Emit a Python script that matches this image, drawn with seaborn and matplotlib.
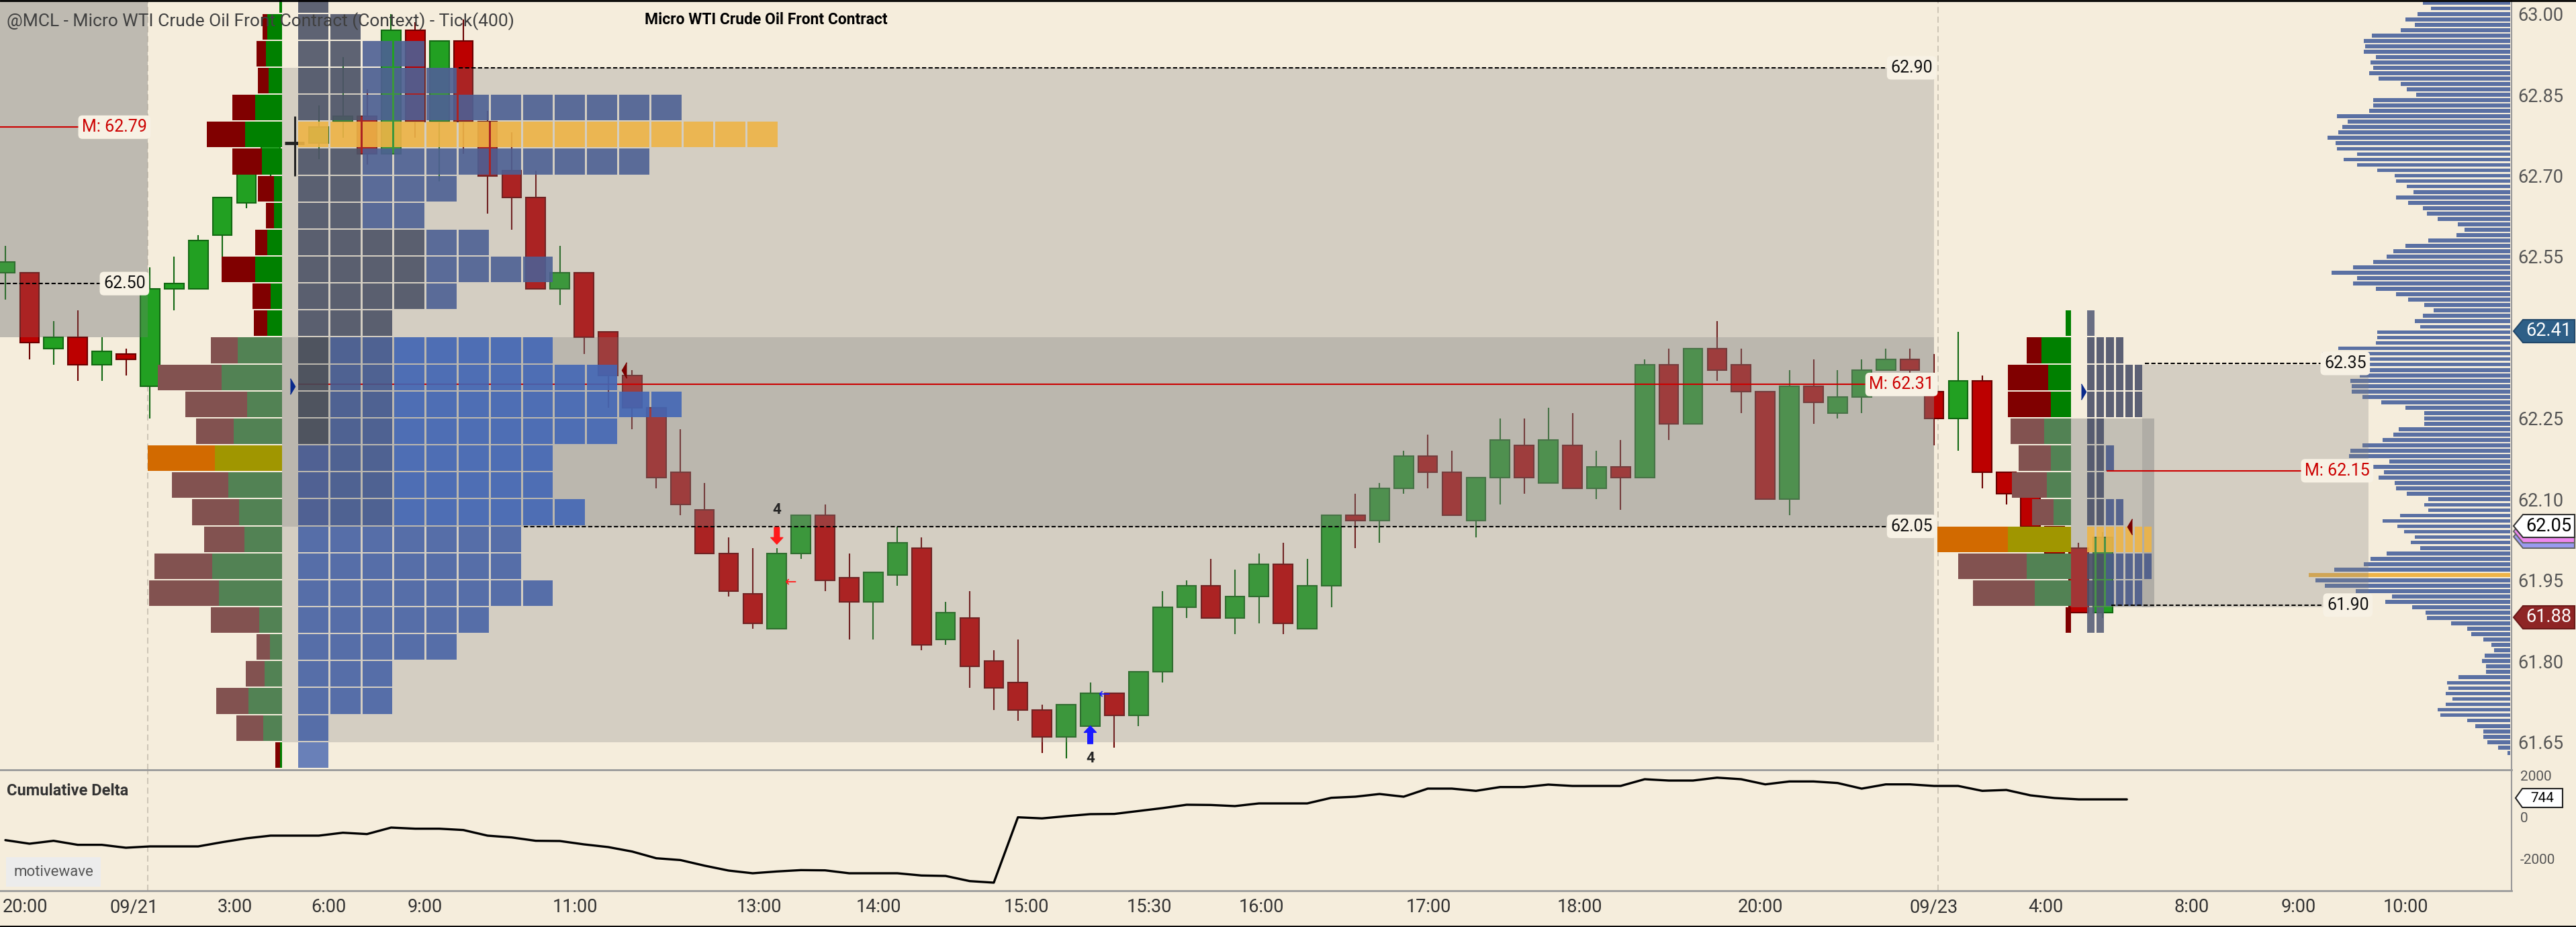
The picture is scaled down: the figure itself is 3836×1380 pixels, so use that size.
import numpy as np
import pandas as pd
import matplotlib
matplotlib.use("Agg")
import matplotlib.pyplot as plt
from matplotlib.patches import Rectangle, Polygon
import seaborn as sns

# ---------------- data ----------------
# 400-tick candles
opens = [62.52, 62.52, 62.38, 62.40, 62.35, 62.37, 62.31, 62.49, 62.49, 62.59,
         62.65, 62.71, 62.76, 62.76, 62.80, 62.81, 62.74, 62.97, 62.80, 62.95,
         62.80, 62.71, 62.66, 62.49, 62.52, 62.41, 62.33, 62.27, 62.15, 62.08,
         62.00, 61.925, 61.86, 62.00, 62.07, 61.955, 61.91, 61.96, 62.01, 61.84,
         61.88, 61.80, 61.76, 61.71, 61.66, 61.68, 61.74, 61.70, 61.78, 61.90,
         61.94, 61.88, 61.92, 61.98, 61.86, 61.94, 62.07, 62.06, 62.12, 62.18,
         62.15, 62.06, 62.14, 62.20, 62.13, 62.20, 62.12, 62.16, 62.14, 62.35,
         62.24, 62.38, 62.35, 62.30, 62.10, 62.31, 62.26, 62.29, 62.34, 62.36,
         62.30, 62.25, 62.32, 62.15, 62.11, 62.05, 62.01, 61.89]
highs = [62.57, 62.52, 62.43, 62.45, 62.40, 62.38, 62.53, 62.55, 62.59, 62.66,
         62.73, 62.80, 62.81, 62.83, 62.92, 62.86, 63.00, 62.985, 62.95, 62.99,
         62.82, 62.78, 62.71, 62.57, 62.52, 62.41, 62.34, 62.27, 62.23, 62.13,
         62.03, 62.01, 62.01, 62.07, 62.09, 62.00, 61.965, 62.05, 62.03, 61.91,
         61.93, 61.82, 61.84, 61.72, 61.72, 61.76, 61.74, 61.78, 61.93, 61.95,
         61.99, 61.97, 62.00, 62.02, 61.99, 62.07, 62.11, 62.13, 62.19, 62.22,
         62.19, 62.14, 62.25, 62.25, 62.27, 62.26, 62.19, 62.21, 62.36, 62.38,
         62.38, 62.43, 62.38, 62.30, 62.34, 62.36, 62.34, 62.36, 62.38, 62.38,
         62.37, 62.41, 62.33, 62.15, 62.11, 62.05, 62.02, 62.04]
lows = [62.47, 62.36, 62.35, 62.32, 62.32, 62.33, 62.25, 62.45, 62.49, 62.53,
        62.64, 62.70, 62.70, 62.73, 62.77, 62.72, 62.74, 62.77, 62.69, 62.74,
        62.63, 62.60, 62.49, 62.46, 62.37, 62.27, 62.23, 62.12, 62.07, 62.00,
        61.92, 61.86, 61.86, 61.99, 61.93, 61.84, 61.84, 61.94, 61.82, 61.83,
        61.75, 61.71, 61.69, 61.63, 61.62, 61.66, 61.64, 61.68, 61.76, 61.88,
        61.88, 61.85, 61.87, 61.85, 61.86, 61.90, 62.01, 62.02, 62.11, 62.12,
        62.07, 62.03, 62.09, 62.11, 62.13, 62.12, 62.10, 62.08, 62.14, 62.21,
        62.24, 62.32, 62.26, 62.10, 62.07, 62.24, 62.25, 62.26, 62.34, 62.33,
        62.20, 62.19, 62.12, 62.09, 62.04, 61.96, 61.89, 61.88]
closes = [62.54, 62.39, 62.40, 62.35, 62.375, 62.36, 62.49, 62.50, 62.58, 62.66,
          62.71, 62.77, 62.76, 62.79, 62.81, 62.74, 62.97, 62.80, 62.95, 62.80,
          62.70, 62.66, 62.49, 62.52, 62.40, 62.33, 62.27, 62.14, 62.09, 62.00,
          61.93, 61.87, 62.00, 62.07, 61.95, 61.91, 61.965, 62.02, 61.83, 61.89,
          61.79, 61.75, 61.71, 61.66, 61.72, 61.74, 61.70, 61.78, 61.90, 61.94,
          61.88, 61.92, 61.98, 61.87, 61.94, 62.07, 62.06, 62.12, 62.18, 62.15,
          62.07, 62.14, 62.21, 62.14, 62.21, 62.12, 62.16, 62.14, 62.35, 62.24,
          62.38, 62.34, 62.30, 62.10, 62.31, 62.28, 62.29, 62.34, 62.36, 62.34,
          62.25, 62.32, 62.15, 62.11, 62.05, 62.00, 61.89, 62.03]

# cumulative delta, one value per bar
cum_delta = [-1111, -1284, -1143, -1338, -1338, -1479, -1414, -1414, -1414, -1208,
             -1024, -894, -894, -894, -753, -818, -504, -558, -558, -623,
             -894, -981, -1143, -1154, -1316, -1446, -1663, -1988, -2075, -2346,
             -2584, -2714, -2627, -2562, -2573, -2714, -2714, -2714, -2822, -2844,
             -3093, -3169, -5, -59, 49, 146, 157, 298, 439, 601,
             590, 536, 666, 666, 666, 937, 991, 1121, 991, 1381,
             1381, 1273, 1457, 1457, 1576, 1511, 1511, 1511, 1836, 1771,
             1771, 1912, 1836, 1587, 1728, 1728, 1652, 1381, 1587, 1587,
             1511, 1511, 1273, 1316, 1056, 926, 861, 861, 861]

# session 09/21 profile rows (lower bound of each 5-tick row)
rows_left = [63.00, 62.95, 62.90, 62.85, 62.80, 62.75, 62.70, 62.65, 62.60, 62.55,
             62.50, 62.45, 62.40, 62.35, 62.30, 62.25, 62.20, 62.15, 62.10, 62.05,
             62.00, 61.95, 61.90, 61.85, 61.80, 61.75, 61.70, 61.65, 61.60]
tpo_left = [1, 2, 4, 5, 12, 15, 11, 5, 4, 6, 8, 5, 3, 8, 10, 12, 10, 8, 8, 9,
            7, 7, 8, 6, 5, 3, 3, 1, 1]
sell_left = [0, 7, 14, 16, 34, 57, 44, 24, 12, 18, 50, 27, 20, 40, 95, 92, 56, 100, 84, 70,
             60, 86, 104, 72, 20, 28, 48, 40, 7]
buy_left = [4, 22, 24, 20, 40, 55, 30, 12, 12, 22, 40, 17, 22, 66, 90, 52, 72, 100, 80, 64,
            56, 104, 94, 34, 18, 26, 50, 28, 3]

# session 09/23 profile rows
rows_right = [62.40, 62.35, 62.30, 62.25, 62.20, 62.15, 62.10, 62.05, 62.00, 61.95, 61.90, 61.85]
tpo_right = [1, 4, 6, 6, 2, 3, 2, 4, 7, 7, 6, 2]
sell_right = [0, 22, 60, 64, 50, 48, 52, 32, 105, 102, 92, 8]
buy_right = [8, 44, 34, 30, 40, 30, 36, 26, 94, 66, 54, 0]

# composite volume profile, one bar per tick from 63.02 down to 61.63
comp_vol = [130, 118, 138, 156, 142, 163, 206, 218, 216, 218,
            200, 208, 204, 210, 196, 163, 154, 140, 204, 204,
            210, 258, 242, 250, 256, 272, 260, 258, 228, 248,
            228, 198, 172, 170, 154, 144, 170, 152, 130, 124,
            108, 78, 68, 80, 122, 156, 174, 184, 204, 234,
            266, 228, 234, 200, 170, 152, 128, 114, 130, 142,
            134, 198, 198, 200, 256, 280, 251, 244, 252, 224,
            238, 236, 236, 220, 192, 156, 128, 128, 128, 166,
            174, 190, 220, 238, 240, 180, 218, 188, 196, 172,
            170, 154, 122, 128, 122, 164, 190, 168, 158, 142,
            148, 134, 184, 208, 218, 262, 300, 290, 276, 230,
            176, 186, 146, 126, 124, 88, 64, 58, 40, 28,
            24, 38, 42, 36, 36, 77, 94, 92, 96, 86,
            96, 108, 104, 64, 52, 40, 40, 34, 18, 4]
comp_prices = np.round(63.02 - 0.01 * np.arange(len(comp_vol)), 2)

# 62.40 sits under the last-price tag, so it is left out
price_ticks = [63.00, 62.85, 62.70, 62.55, 62.25, 62.10, 61.95, 61.80, 61.65]
time_labels = ["20:00", "09/21", "3:00", "6:00", "9:00", "11:00", "13:00", "14:00", "15:00",
               "15:30", "16:00", "17:00", "18:00", "20:00", "09/23", "4:00", "8:00", "9:00", "10:00"]
time_px = [37, 200, 350, 489, 633, 856, 1130, 1308, 1528, 1711, 1878, 2127, 2352, 2621,
           2880, 3046, 3264, 3423, 3582]

# ---------------- layout / style ----------------
W, H = 3836, 1380
BG = "#F5EDDC"
PX0, PXW = 8.0, 35.9          # pixel of bar 0, pixels per bar
Y_TOP, Y_BOT = 63.0257, 61.5986


def px2bar(px):
    return (px - PX0) / PXW


def pw(px):
    return px / PXW


sns.set_theme(style="white")
plt.rcParams['font.family'] = ['Roboto', 'DejaVu Sans']

fig = plt.figure(figsize=(W / 100, H / 100), dpi=100, facecolor=BG)
ax = fig.add_axes([0, 234 / H, 3740 / W, 1146 / H])
axd = fig.add_axes([0, 54 / H, 3740 / W, 180 / H])
for a in (ax, axd):
    a.set_facecolor(BG)
    for s in a.spines.values():
        s.set_visible(False)
    a.set_xlim(px2bar(0), px2bar(3740))
ax.set_ylim(Y_BOT, Y_TOP)

# ---- candles ----
o, h, l, c = map(np.array, (opens, highs, lows, closes))
idx = np.arange(len(o))
up = c > o
dj = c == o
body = np.where(up, "#22A022", "#BC0000")
edge = np.where(up, "#126812", "#6A0000")
ax.vlines(idx[~dj], l[~dj], h[~dj], colors=edge[~dj], lw=1.5, zorder=2)
ax.vlines(idx[dj], l[dj], h[dj], colors="black", lw=2.2, zorder=2)
nd = ~dj
ax.bar(idx[nd], np.abs(c - o)[nd], bottom=np.minimum(o, c)[nd], width=0.8,
       color=body[nd], edgecolor=edge[nd], lw=1.5, zorder=2.1)
ax.hlines(c[dj], idx[dj] - 0.4, idx[dj] + 0.4, colors="black", lw=3.5, zorder=2.1)


def shade(x0, x1, p0, p1, alpha, z=3):
    ax.add_patch(Rectangle((px2bar(x0), p0), pw(x1 - x0), p1 - p0, fc="#808080",
                           alpha=alpha, lw=0, zorder=z))


# prior session value area (left edge)
shade(0, 220, 62.40, Y_TOP, 0.25, z=1)
shade(0, 220, 62.40, Y_TOP, 0.28)
# session 09/21
shade(420, 2880, 61.65, 62.90, 0.28)
shade(420, 2880, 62.05, 62.40, 0.29)
# session 09/23
shade(3190, 3527, 61.90, 62.35, 0.28)
shade(3084, 3208, 61.90, 62.25, 0.42)

# ---- composite volume profile on the right ----
comp_col = ["#F0B447" if v == max(comp_vol) else "#5A70A3" for v in comp_vol]
ax.barh(comp_prices, [pw(v) for v in comp_vol], left=[px2bar(3738) - pw(v) for v in comp_vol],
        height=0.0072, color=comp_col, lw=0, zorder=2.5)


# ---- TPO cells ----
def tpo(rows, counts, x0, cell, zone):
    poc = int(np.argmax(counts))
    for r, (lo, n) in enumerate(zip(rows, counts)):
        for k in range(n):
            col, a = zone(lo, k), 0.9
            if r == poc:
                col, a = "#EEB446", 0.9
            ax.barh(lo + 0.0025, pw(cell - 3), left=px2bar(x0 + k * cell), height=0.0475,
                    align="edge", color=col, alpha=a, lw=0, zorder=4)


def zone_left(lo, k):
    if lo >= 62.40:
        if lo <= 62.55 and k < 4:
            return "#4D5366"
        return "#4D5468" if k < 2 else "#4D6094"
    if lo >= 62.05:
        if k == 0:
            return "#434957" if lo >= 62.20 else "#445890"
        if k < 3:
            return "#43598F"
        return "#4266B5"
    if lo <= 61.60:
        return "#5A74B4"
    return "#4864A6"


def zone_right(lo, k):
    if lo >= 62.40 or lo <= 61.85:
        return "#5A6079"
    if lo >= 62.25:
        return "#4B5169"
    return "#4A5A8A" if k > 1 else "#4B5169"


tpo(rows_left, tpo_left, 444, 47.8, zone_left)
tpo(rows_right, tpo_right, 3108, 14.2, zone_right)


# ---- delta profiles (sell left, buy right) ----
def delta(rows, sell, buy, x_right, va_lo, va_hi):
    poc = int(np.argmax(np.array(sell) + np.array(buy)))
    for r, (lo, s, b) in enumerate(zip(rows, sell, buy)):
        muted = va_lo <= lo <= va_hi
        cs, cb = ("#825250", "#528254") if muted else ("#800000", "#008000")
        if r == poc:
            cs, cb = "#D26A00", "#A09600"
        ax.barh(lo + 0.0025, pw(b), left=px2bar(x_right) - pw(b), height=0.0475,
                align="edge", color=cb, lw=0, zorder=5)
        ax.barh(lo + 0.0025, pw(s), left=px2bar(x_right) - pw(b + s), height=0.0475,
                align="edge", color=cs, lw=0, zorder=5)


delta(rows_left, sell_left, buy_left, 420, 61.65, 62.35)
delta(rows_right, sell_right, buy_right, 3084, 61.90, 62.20)

# ---- level lines and labels ----
DASH = (0, (3, 1.6))


def hline(p, x0, x1, color="black", ls=DASH, z=6):
    ax.plot([px2bar(x0), px2bar(x1)], [p, p], color=color, lw=1.5, ls=ls, zorder=z,
            solid_capstyle="butt")


def tag(x, p, text, color="#111111", ha="left"):
    ax.text(px2bar(x), p, text, color=color, fontsize=18, ha=ha, va="center", zorder=9,
            bbox=dict(boxstyle="round,pad=0.22,rounding_size=0.25", fc="#F7F1E4", ec="none"))


hline(62.79, 0, 118, color="#CC0000", ls="-")
tag(122, 62.79, "M: 62.79", color="#CC0000")
hline(62.50, 0, 150)
tag(154, 62.50, "62.50")
hline(62.90, 683, 2816)
tag(2878, 62.90, "62.90", ha="right")
hline(62.05, 780, 2812)
tag(2878, 62.05, "62.05", ha="right")
hline(62.313, 444, 2784, color="#CC0000", ls="-", z=3.5)
tag(2880, 62.313, "M: 62.31", color="#CC0000", ha="right")
hline(62.352, 3194, 3457)
tag(3461, 62.352, "62.35")
hline(61.904, 3144, 3461)
tag(3465, 61.904, "61.90")
hline(62.153, 3137, 3429, color="#CC0000", ls="-")
tag(3432, 62.153, "M: 62.15", color="#CC0000")

# session separators
for a in (ax, axd):
    for px in (220, 2886):
        a.axvline(px2bar(px), color="#C9C1B2", lw=1.3, ls=(0, (5, 3)), zorder=1.5)

# markers
tri_r = [(0, -1), (0.6, 0), (0, 1)]
tri_l = [(0, -1), (-0.6, 0), (0, 1)]
ax.plot(px2bar(432), 62.31, marker=tri_r, ms=17, color="#0A2A8C", zorder=7)
ax.plot(px2bar(3099), 62.30, marker=tri_r, ms=17, color="#0A2A8C", zorder=7)
ax.plot(px2bar(933), 62.34, marker=tri_l, ms=17, color="#7A0000", zorder=7)
ax.plot(px2bar(3175), 62.05, marker=tri_l, ms=17, color="#7A0000", zorder=7)

ax.annotate("", xy=(32, 62.017), xytext=(32, 62.048),
            arrowprops=dict(width=5.5, headwidth=13, headlength=7, color="#FF1A1A", shrink=0),
            zorder=7)
ax.text(32, 62.081, "4", fontsize=16, fontweight="bold", ha="center", va="center", zorder=7)
ax.text(px2bar(1178), 61.945, "←", color="#FF1A1A", fontsize=15, ha="center", va="center",
        family="DejaVu Sans", zorder=7)
ax.annotate("", xy=(45, 61.680), xytext=(45, 61.647),
            arrowprops=dict(width=5.5, headwidth=13, headlength=7, color="#1A1AFF", shrink=0),
            zorder=7)
ax.text(45, 61.620, "4", fontsize=16, fontweight="bold", ha="center", va="center", zorder=7)
ax.text(px2bar(1645), 61.737, "←", color="#1A1AFF", fontsize=15, ha="center", va="center",
        family="DejaVu Sans", zorder=7)

# price axis
ax.yaxis.tick_right()
ax.set_yticks(price_ticks)
ax.set_yticklabels([f"{p:.2f}" for p in price_ticks])
ax.tick_params(axis="y", length=0, pad=7, labelsize=19.5, labelcolor="#555555")
ax.set_xticks([])
ax.spines["right"].set_visible(True)
ax.spines["right"].set_color("#9A9A9A")
ax.spines["right"].set_linewidth(1.5)

# ---- cumulative delta panel ----
cd = pd.DataFrame({"bar": np.arange(len(cum_delta)), "delta": cum_delta})
sns.lineplot(data=cd, x="bar", y="delta", ax=axd, color="black", lw=2.4)
axd.set_ylim(-3559, 2291)
axd.set_xlim(px2bar(0), px2bar(3740))
axd.yaxis.tick_right()
axd.set_yticks([2000, 0, -2000])
axd.set_yticklabels(["2000", "0", "-2000"])
axd.tick_params(axis="y", length=0, pad=9, labelsize=15, labelcolor="#555555")
axd.get_yticklabels()[1].set_y(0)
axd.set_xticks([px2bar(p) for p in time_px])
axd.set_xticklabels(time_labels)
axd.tick_params(axis="x", length=0, pad=8, labelsize=19.5, labelcolor="#333333")
axd.set_xlabel("")
axd.set_ylabel("")
for s in ("top", "bottom", "right"):
    axd.spines[s].set_visible(True)
    axd.spines[s].set_color("#9A9A9A")
axd.spines["top"].set_linewidth(2)
axd.spines["bottom"].set_linewidth(2)
axd.spines["right"].set_linewidth(1.5)


# ---- figure-level text ----
def fx(px):
    return px / W


def fy(py):
    return 1 - py / H


fig.text(fx(10), fy(32), "@MCL - Micro WTI Crude Oil Front Contract (Context) - Tick(400)",
         fontsize=19, color="#404040", ha="left", va="center", zorder=20)
fig.text(fx(960), fy(30), "Micro WTI Crude Oil Front Contract", fontsize=16.5,
         fontweight="bold", color="black", ha="left", va="center", zorder=20)
fig.text(fx(10), fy(1178), "Cumulative Delta", fontsize=17, fontweight="semibold",
         color="#333333", ha="left", va="center", zorder=20)
fig.text(fx(20), fy(1298), "motivewave", fontsize=16, color="#555555", ha="left", va="center",
         zorder=20, bbox=dict(boxstyle="square,pad=0.5", fc="#ECECEC", ec="none"))


def axis_tag(py, fc, ec, text=None, tc="white", fs=19.5, x0=3743, x1=3834, hh=17, tip=14):
    pts = [(x0, py), (x0 + tip, py - hh), (x1, py - hh), (x1, py + hh), (x0 + tip, py + hh)]
    fig.add_artist(Polygon([(fx(x), fy(y)) for x, y in pts], closed=True, fc=fc, ec=ec,
                           lw=1.5, transform=fig.transFigure, zorder=19))
    if text:
        fig.text(fx((x0 + tip + x1) / 2), fy(py), text, fontsize=fs, color=tc, ha="center",
                 va="center", zorder=20)


axis_tag(493, "#2E5F87", "#22486A", "62.41")
axis_tag(799, "#9A9AF0", "#666666")
axis_tag(791, "#EE88EE", "#666666")
axis_tag(783, "white", "#333333", "62.05", tc="black")
axis_tag(919, "#8E2525", "#6A1A1A", "61.88")
axis_tag(1188, "white", "#222222", "744", tc="black", fs=15, x0=3746, x1=3816, hh=14, tip=10)

# borders
fig.add_artist(plt.Line2D([0, 1], [1 - 1 / H, 1 - 1 / H], color="black", lw=2))
fig.add_artist(plt.Line2D([0, 1], [1 / H, 1 / H], color="black", lw=2))

fig.savefig("out.png", dpi=100, facecolor=BG)
